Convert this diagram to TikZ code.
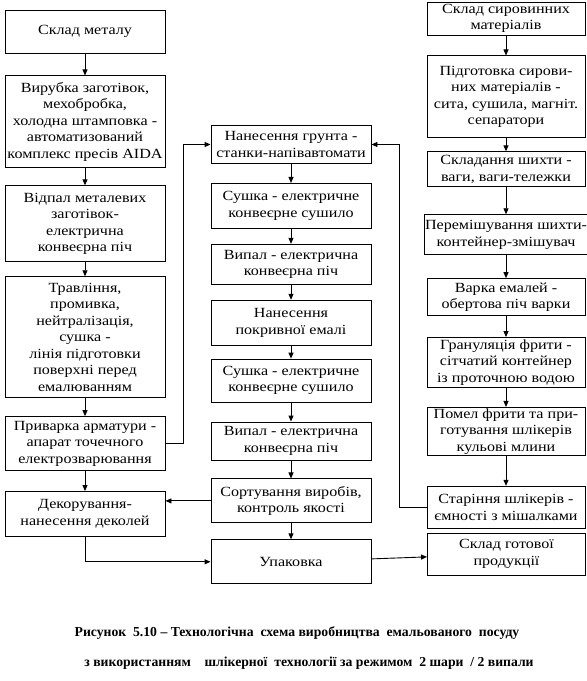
\documentclass[tikz,border=0pt]{standalone}
\usepackage{fontspec}
\setmainfont{Liberation Serif}[FakeStretch=1.15]
\newfontfamily\capfont{Liberation Serif}
\usetikzlibrary{arrows.meta,positioning}

\begin{document}
\begin{tikzpicture}[
  x=1pt, y=-1pt,
  node distance=16pt,
  stage/.style={draw, line width=0.9pt, inner sep=1pt, minimum width=160pt, align=center,
    font=\fontsize{14}{16.5}\selectfont},
  rstage/.style={stage, minimum width=158pt},
  arrow/.style={-{Triangle[length=6pt,width=5pt]}, line width=0.9pt},
  caption/.style={font=\capfont\bfseries\fontsize{13.7}{16}\selectfont}
]
\useasboundingbox (0,0) rectangle (587,681);
% left column: metal parts
\node[stage, minimum height=43pt] (metal) at (85,31.5) {Склад металу};
\node[stage, minimum height=92pt, below=22pt of metal] (cut) {Вирубка заготівок,\\ мехобробка,\\ холодна штамповка -\\ автоматизований\\ комплекс пресів AIDA};
\node[stage, minimum height=76pt, below=17pt of cut] (anneal) {Відпал металевих\\ заготівок-\\ електрична\\ конвеєрна піч};
\node[stage, minimum height=121pt, below=14pt of anneal] (etch) {Травління,\\ промивка,\\ нейтралізація,\\ сушка -\\ лінія підготовки\\ поверхні перед\\ емалюванням};
\node[stage, minimum height=54pt, below=18pt of etch] (weld) {Приварка арматури -\\ апарат точечного\\ електрозварювання};
\node[stage, minimum height=45pt, below=20pt of weld] (decor) {Декорування-\\ нанесення деколей};
% middle column: enamelling
\node[stage, minimum height=38pt] (primer) at (291,144.5) {Нанесення грунта -\\ станки-напівавтомати};
\node[stage, minimum height=45pt, below=19pt of primer] (dry1) {Сушка - електричне\\ конвеєрне сушило};
\node[stage, minimum height=40pt, below=15pt of dry1] (fire1) {Випал - електрична\\ конвеєрна піч};
\node[stage, minimum height=45pt, below=15pt of fire1] (cover) {Нанесення\\ покривної емалі};
\node[stage, minimum height=43pt, below=13pt of cover] (dry2) {Сушка - електричне\\ конвеєрне сушило};
\node[stage, minimum height=38pt, below=19pt of dry2] (fire2) {Випал - електрична\\ конвеєрна піч};
\node[stage, minimum height=44pt, below=18pt of fire2] (sort) {Сортування виробів,\\ контроль якості};
\node[stage, minimum height=44pt, below=16pt of sort] (pack) {Упаковка};
% right column: enamel slip
\node[rstage, minimum height=33pt] (raw) at (506,18.5) {Склад сировинних\\ матеріалів};
\node[rstage, minimum height=82pt, below=20pt of raw] (prep) {Підготовка сирови-\\ них матеріалів -\\ сита, сушила, магніт.\\ сепаратори};
\node[rstage, minimum height=35pt, below=13pt of prep] (batch) {Складання шихти -\\ ваги, ваги-тележки};
\node[rstage, minimum height=40pt, below=27pt of batch] (mix) {Перемішування шихти-\\ контейнер-змішувач};
\node[rstage, minimum height=37pt, below=23pt of mix] (melt) {Варка емалей -\\ обертова піч варки};
\node[rstage, minimum height=50pt, below=21pt of melt] (frit) {Грануляція фрити -\\ сітчатий контейнер\\ із проточною водою};
\node[rstage, minimum height=48pt, below=19pt of frit] (mill) {Помел фрити та при-\\ готування шлікерів\\ кульові млини};
\node[rstage, minimum height=42pt, below=30pt of mill] (age) {Старіння шлікерів -\\ ємності з мішалками};
\node[rstage, minimum height=42pt] (store) at (506.5,554) {Склад готової\\ продукції};
% connectors
\foreach \a/\b in {metal/cut, cut/anneal, anneal/etch, etch/weld, weld/decor,
  primer/dry1, dry1/fire1, fire1/cover, cover/dry2, dry2/fire2, fire2/sort, sort/pack,
  raw/prep, prep/batch, batch/mix, mix/melt, melt/frit, frit/mill, mill/age}
  \draw[arrow] (\a) -- (\b);
\draw[arrow] (weld.east) -- ++(18,0) |- (primer.west);
\draw[arrow] (age.west) -- ++(-27,0) |- (primer.east);
\draw[arrow] (sort.west) -- (sort.west -| decor.east);
\draw[arrow] (decor.south) |- (pack.west);
\draw[arrow] (pack) -- (store);
% caption
\node[caption] (cap1) at (297,633) {Рисунок\ \ 5.10 – Технологічна\ \ схема виробництва\ \ емальованого\ \ посуду};
\node[caption] (cap2) at (309,663) {з використанням\ \ \ \ шлікерної\ \ технології за режимом\ \ 2 шари\ \ / 2 випали};
\end{tikzpicture}
\end{document}
